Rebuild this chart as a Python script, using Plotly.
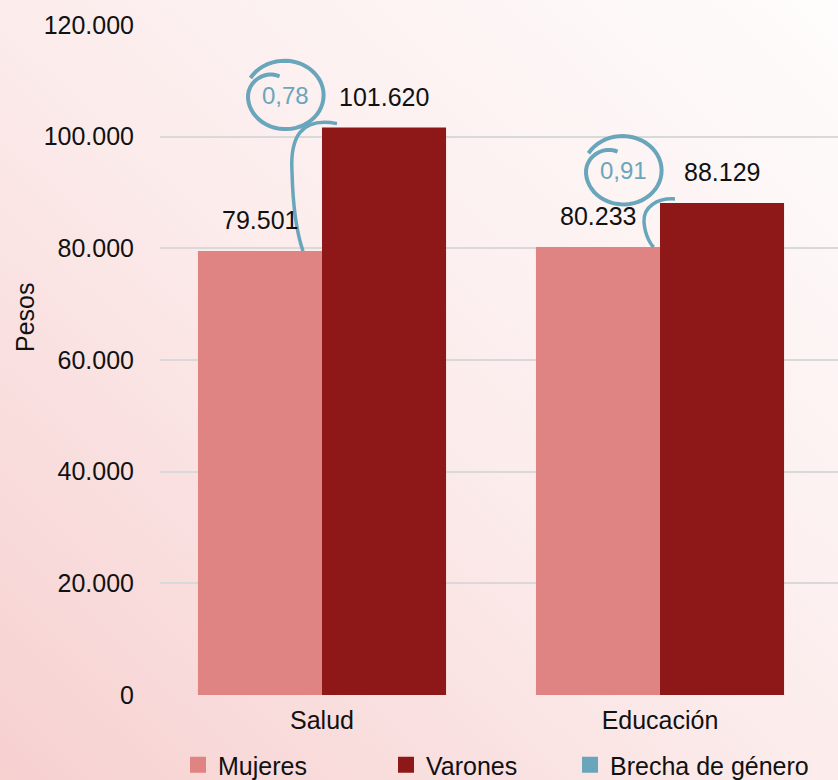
import base64
import math
import plotly.graph_objects as go

# ---------------- data ----------------
categories = ["Salud", "Educación"]
mujeres = [79501, 80233]
varones = [101620, 88129]
legend_names = ["Mujeres", "Varones", "Brecha de género"]
y_ticks = [0, 20000, 40000, 60000, 80000, 100000, 120000]
y_title = "Pesos"

# ---------------- style ----------------
C_MUJ = "#e08383"
C_VAR = "#8e1818"
C_GAP = "#6aa6bb"
FONT = "Liberation Sans, Arial, sans-serif"
FS = 25

W, H = 838, 780
ML, MR, MT, MB = 160, 0, 25, 85
PW, PH = W - ML - MR, H - MT - MB
BAND_PX = 338
X0 = -(322 - ML) / BAND_PX
XR = [X0, X0 + PW / BAND_PX]
YR = [0, 120000]
PX_X = PW / (XR[1] - XR[0])
PX_Y = PH / (YR[1] - YR[0])
BARGAP = 0.266
BW = (1 - BARGAP) / 2
LEGEND_PX = [178, 386, 570]


def fmt(v):
    return f"{v:,}".replace(",", ".")


def dx(px):
    return px / PX_X


def dy(px):
    return px / PX_Y


fig = go.Figure()
xs = list(range(len(categories)))
fig.add_bar(x=xs, y=mujeres, name=legend_names[0], marker_color=C_MUJ,
            marker_line_width=0, showlegend=False)
fig.add_bar(x=xs, y=varones, name=legend_names[1], marker_color=C_VAR,
            marker_line_width=0, showlegend=False)
legend_ids = ["legend", "legend2", "legend3"]
for name, col, lid in zip(legend_names, [C_MUJ, C_VAR, C_GAP], legend_ids):
    fig.add_scatter(x=[None], y=[None], mode="markers", name=name, legend=lid,
                    marker=dict(symbol="square", size=16, color=col))

annotations = []
shapes = []
for i in xs:
    # value labels
    for xoff, v in ((-BW / 2, mujeres[i]), (BW / 2, varones[i])):
        annotations.append(dict(x=i + xoff, y=v, text=fmt(v), showarrow=False,
                                yanchor="middle", yshift=31,
                                font=dict(size=FS, color="#111", family=FONT)))
    # gap swirl
    cx = i + dx(-37)
    cy = varones[i] + dy(32)
    ratio = mujeres[i] / varones[i]
    annotations.append(dict(x=cx, y=cy, text=f"{ratio:.2f}".replace(".", ","),
                            showarrow=False, yanchor="middle",
                            font=dict(size=24, color=C_GAP, family=FONT)))
    pts = []
    n = 60
    a0, a1 = 150, -256
    for k in range(n + 1):
        t = k / n
        a = math.radians(a0 + (a1 - a0) * t)
        r = 1.14 - 0.1 * t - 0.4 * max(0.0, (t - 0.8) / 0.2) ** 2
        px = 35 * r * math.cos(a)
        py = 31 * r * math.sin(a)
        pts.append((cx + dx(px), cy + dy(py)))
    path = "M " + " L ".join(f"{x:.5f},{y:.2f}" for x, y in pts)
    shapes.append(dict(type="path", path=path, xref="x", yref="y",
                       line=dict(color=C_GAP, width=4)))
    # connector from swirl to Mujeres bar top
    ex = i - BW / 2 + dx(62 - (19 if i == 0 else 6))
    ey = mujeres[i]
    sx, sy = cx + dx(52), cy - dy(28)
    if i == 0:
        c = [(sx - dx(37), sy + dy(7)), (sx - dx(47), sy - dy(15)), (sx - dx(45), sy - dy(48)),
             (sx - dx(44), sy - dy(88)), (sx - dx(39), sy - dy(113))]
    else:
        c = [(sx - dx(18), sy + dy(1)), (sx - dx(32), sy - dy(8)), (sx - dx(31), sy - dy(23)),
             (sx - dx(30), sy - dy(38)), (sx - dx(23), sy - dy(47))]
    p = (f"M {sx:.5f},{sy:.2f} C {c[0][0]:.5f},{c[0][1]:.2f} {c[1][0]:.5f},{c[1][1]:.2f} "
         f"{c[2][0]:.5f},{c[2][1]:.2f} C {c[3][0]:.5f},{c[3][1]:.2f} {c[4][0]:.5f},{c[4][1]:.2f} "
         f"{ex:.5f},{ey:.2f}")
    shapes.append(dict(type="path", path=p, xref="x", yref="y",
                       line=dict(color=C_GAP, width=3.5)))

# y-axis title
annotations.append(dict(x=-(ML - 25) / PW, y=(695 - 318) / PH, xref="paper", yref="paper",
                        xanchor="center", yanchor="middle",
                        text=y_title, textangle=-90, showarrow=False,
                        font=dict(size=FS, color="#111", family=FONT)))

# gradient background
svg = f'''<svg xmlns="http://www.w3.org/2000/svg" width="{W}" height="{H}" viewBox="0 0 {W} {H}" preserveAspectRatio="none">
<defs><linearGradient id="g" x1="0" y1="1" x2="1" y2="0">
<stop offset="0" stop-color="#f7d0d0"/><stop offset="0.5" stop-color="#fcecec"/><stop offset="1" stop-color="#fefcfc"/>
</linearGradient></defs><rect width="{W}" height="{H}" fill="url(#g)"/></svg>'''
src = "data:image/svg+xml;base64," + base64.b64encode(svg.encode()).decode()

legend_common = dict(orientation="h", y=(695 - 765) / PH, xanchor="left", yanchor="middle",
                     bgcolor="rgba(0,0,0,0)", font=dict(size=FS, family=FONT, color="#111"),
                     itemsizing="trace")

fig.update_layout(
    width=W, height=H,
    margin=dict(l=ML, r=MR, t=MT, b=MB, pad=0, autoexpand=False),
    paper_bgcolor="#fbeeee", plot_bgcolor="rgba(0,0,0,0)",
    barmode="group", bargap=BARGAP, bargroupgap=0,
    font=dict(family=FONT, size=FS, color="#111"),
    images=[dict(source=src, xref="paper", yref="paper", x=-ML / PW, y=1 + MT / PH,
                 sizex=W / PW, sizey=H / PH, sizing="stretch", layer="below",
                 xanchor="left", yanchor="top")],
    xaxis=dict(range=XR, tickvals=xs, ticktext=categories, showgrid=False,
               zeroline=False, showline=False, ticks="", ticklabelstandoff=8,
               tickfont=dict(size=FS, family=FONT, color="#111"), fixedrange=True,
               automargin=False),
    yaxis=dict(range=YR, tickvals=y_ticks, ticktext=[fmt(v) for v in y_ticks],
               showgrid=True, gridcolor="#d9d9d9", gridwidth=1.5, zeroline=False,
               showline=False, ticks="", ticklabelstandoff=25, automargin=False,
               tickfont=dict(size=FS, family=FONT, color="#111")),
    legend=dict(x=(LEGEND_PX[0] - ML) / PW, **legend_common),
    legend2=dict(x=(LEGEND_PX[1] - ML) / PW, **legend_common),
    legend3=dict(x=(LEGEND_PX[2] - ML) / PW, **legend_common),
    annotations=annotations,
    shapes=shapes,
    showlegend=True,
)

fig.write_html("out.html", post_script="document.body.style.margin='0';",
               config={"displayModeBar": False})
